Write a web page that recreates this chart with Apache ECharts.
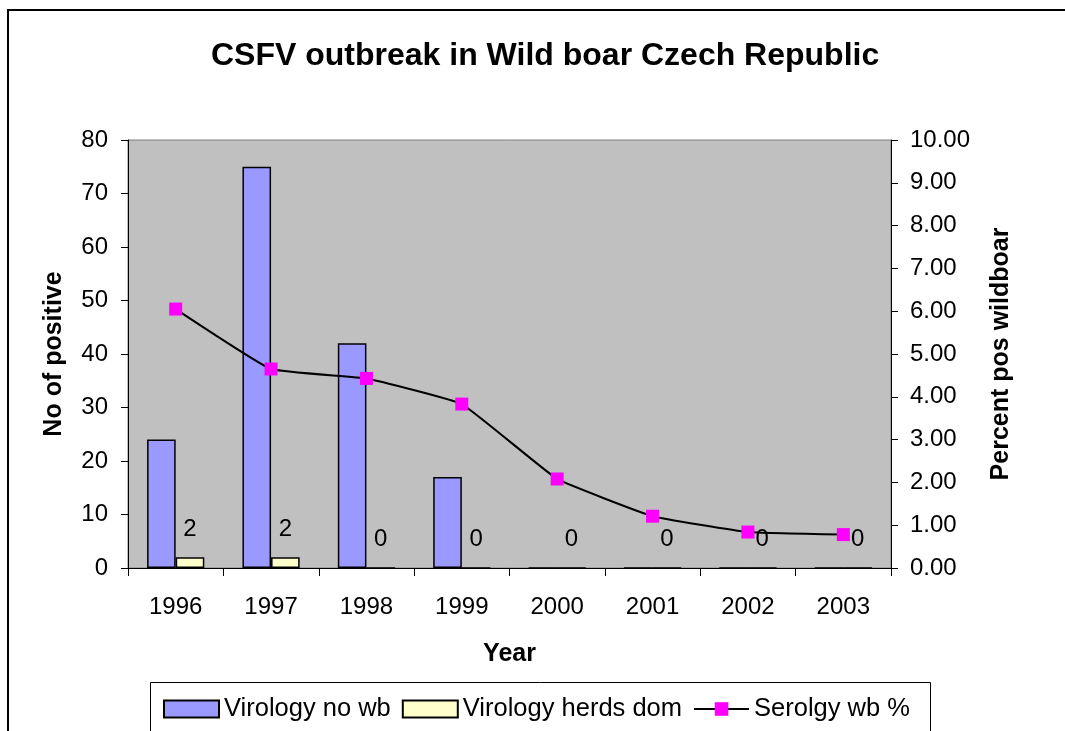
<!DOCTYPE html>
<html>
<head>
<meta charset="utf-8">
<script src="https://cdn.jsdelivr.net/npm/echarts@6/dist/echarts.min.js"></script>
<style>html,body{margin:0;padding:0;background:#fff;}#c{width:1065px;height:731px;}</style>
</head>
<body>
<div id="c"></div>
<script>
const years = ['1996','1997','1998','1999','2000','2001','2002','2003'];
const virologyWb = [24, 75, 42, 17, 0, 0, 0, 0];
const virologyHerds = [2, 2, 0, 0, 0, 0, 0, 0];
const serologyPct = [6.05, 4.65, 4.43, 3.83, 2.08, 1.21, 0.84, 0.78];
const leftTicks = {min: 0, max: 80, interval: 10};
const rightTicks = {min: 0, max: 10, interval: 1};

const FONT = '"Liberation Sans", Arial, sans-serif';
const chart = echarts.init(document.getElementById('c'));
chart.setOption({
  animation: false,
  backgroundColor: '#ffffff',
  textStyle: {fontFamily: FONT, color: '#000'},
  title: {
    text: 'CSFV outbreak in Wild boar Czech Republic',
    left: 206, top: 35,
    textStyle: {fontFamily: FONT, fontSize: 32, fontWeight: 'bold', color: '#000'}
  },
  graphic: [
    {type: 'rect', shape: {x: 8, y: 10, width: 1200, height: 900}, style: {fill: 'none', stroke: '#000', lineWidth: 2}, z: -1},
    {type: 'rect', shape: {x: 150.5, y: 682.5, width: 780, height: 80}, style: {fill: '#fff', stroke: '#000', lineWidth: 1}, z: 0}
  ],
  legend: {
    left: 158, top: 691,
    itemWidth: 55, itemHeight: 17, itemGap: 11,
    textStyle: {fontFamily: FONT, fontSize: 25.5, color: '#000'},
    data: [
      {name: 'Virology no wb', icon: 'rect'},
      {name: 'Virology herds dom', icon: 'rect'},
      {name: 'Serolgy wb %'}
    ],
    z: 5
  },
  grid: {
    left: 128, right: 174, top: 140, bottom: 163,
    show: true, backgroundColor: '#C0C0C0', borderColor: '#808080', borderWidth: 1
  },
  xAxis: {
    type: 'category', data: years,
    name: 'Year', nameLocation: 'middle', nameGap: 74,
    nameTextStyle: {fontFamily: FONT, fontSize: 25, fontWeight: 'bold', color: '#000'},
    axisLine: {lineStyle: {color: '#000', width: 1}},
    axisTick: {show: true, length: 8, lineStyle: {color: '#000'}},
    axisLabel: {fontFamily: FONT, fontSize: 24, color: '#000', margin: 27}
  },
  yAxis: [
    {
      type: 'value', min: leftTicks.min, max: leftTicks.max, interval: leftTicks.interval,
      name: 'No of positive', nameLocation: 'middle', nameGap: 61, nameRotate: 90,
      nameTextStyle: {fontFamily: FONT, fontSize: 25, fontWeight: 'bold', color: '#000'},
      axisLine: {show: true, lineStyle: {color: '#000', width: 1}},
      axisTick: {show: true, length: 7, lineStyle: {color: '#000'}},
      axisLabel: {fontFamily: FONT, fontSize: 24, color: '#000', margin: 20},
      splitLine: {show: false}
    },
    {
      type: 'value', min: rightTicks.min, max: rightTicks.max, interval: rightTicks.interval,
      name: 'Percent pos wildboar', nameLocation: 'middle', nameGap: 98, nameRotate: 90,
      nameTextStyle: {fontFamily: FONT, fontSize: 25, fontWeight: 'bold', color: '#000'},
      axisLine: {show: true, lineStyle: {color: '#000', width: 1}},
      axisTick: {show: true, length: 7, lineStyle: {color: '#000'}},
      axisLabel: {fontFamily: FONT, fontSize: 24, color: '#000', margin: 19, formatter: v => v.toFixed(2)},
      splitLine: {show: false}
    }
  ],
  series: [
    {
      name: 'Virology no wb', type: 'bar', data: virologyWb,
      barCategoryGap: '40%', barGap: '0%',
      itemStyle: {color: '#9999FF', borderColor: '#000', borderWidth: 1.5}
    },
    {
      name: 'Virology herds dom', type: 'bar', data: virologyHerds,
      barGap: '0%',
      itemStyle: {color: '#FFFFCC', borderColor: '#000', borderWidth: 1.5},
      label: {show: true, position: 'top', distance: 16, fontFamily: FONT, fontSize: 24, color: '#000'}
    },
    {
      name: 'Serolgy wb %', type: 'line', yAxisIndex: 1, data: serologyPct,
      smooth: 0.1,
      symbol: 'rect', symbolSize: 13,
      lineStyle: {color: '#000', width: 2},
      itemStyle: {color: '#FF00FF', borderWidth: 0},
      z: 4
    }
  ]
});
</script>
</body>
</html>
